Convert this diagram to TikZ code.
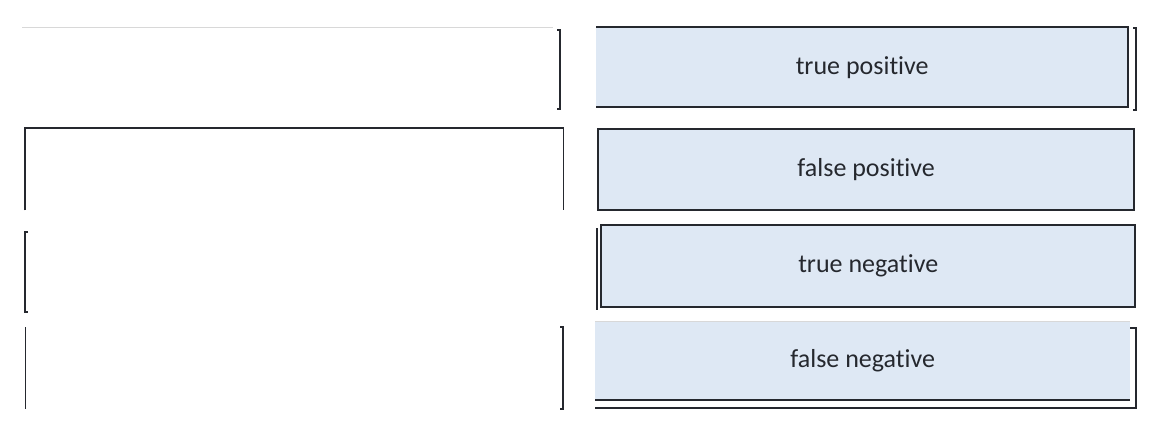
\documentclass[tikz,border=0pt]{standalone}
\usepackage{fontspec}
\setmainfont{Carlito}[Ligatures=NoCommon]
\definecolor{boxfill}{HTML}{DEE8F4}
\definecolor{edge}{HTML}{25282E}
\definecolor{faint}{HTML}{D8D8D8}
\begin{document}
\begin{tikzpicture}[x=1pt,y=-1pt,
  answer/.style={fill=boxfill,inner sep=0pt,anchor=north west,font=\fontsize{26}{30}\selectfont,text=edge},
  blank/.style={inner sep=0pt,anchor=north west},
  rim/.style={draw=edge,line width=2pt},
  thin rim/.style={draw=edge,line width=1.3pt},
  faint rim/.style={draw=faint,line width=1pt}]
\useasboundingbox (0,0) rectangle (1166,425);
% right column
\node[answer,minimum width=532pt,minimum height=80pt] (tp) at (596,27) {true positive};
\node[answer,minimum width=536pt,minimum height=81pt] (fp) at (598,129) {false positive};
\node[answer,minimum width=534pt,minimum height=82pt] (tn) at (601,225) {true negative};
\node[answer,minimum width=535pt,minimum height=79pt] (fn) at (595,321) {false negative};
% left column
\node[blank,minimum width=538pt,minimum height=81pt] (l1) at (22,28) {};
\node[blank,minimum width=538pt,minimum height=82pt] (l2) at (25,128) {};
\node[blank,minimum width=538pt,minimum height=80pt] (l3) at (25,232) {};
\node[blank,minimum width=538pt,minimum height=82pt] (l4) at (25,327) {};
% edges of the right boxes
\draw[rim] (tp.north west) -- (tp.north east) -- (tp.south east) -- (tp.south west);
\draw[rim] ([xshift=5pt,yshift=-1pt]tp.north east) -- ([xshift=8pt,yshift=-1pt]tp.north east) -- ([xshift=8pt,yshift=-3pt]tp.south east) -- ([xshift=5pt,yshift=-3pt]tp.south east);
\draw[rim] (fp.north west) rectangle (fp.south east);
\draw[rim] (tn.north west) rectangle (tn.south east);
\draw[thin rim] ([xshift=-4pt,yshift=-3pt]tn.north west) -- ([xshift=-4pt,yshift=-3pt]tn.south west);
\draw[rim] (fn.south west) -- (fn.south east);
\draw[rim] ([yshift=-8pt]fn.south west) -- ([yshift=-8pt,xshift=6pt]fn.south east) -- ([xshift=6pt,yshift=-7pt]fn.north east) -- ([yshift=-7pt]fn.north east);
\draw[faint rim] (fn.north west) -- (fn.north east);
% edges of the left boxes
\draw[faint rim] (l1.north west) -- ([xshift=-7pt]l1.north east);
\draw[rim] ([xshift=-3pt,yshift=-2pt]l1.north east) -- ([yshift=-2pt]l1.north east) -- (l1.south east) -- ([xshift=-3pt]l1.south east);
\draw[thin rim] (l2.south west) -- (l2.north west) -- (l2.north east) -- (l2.south east);
\draw[rim] ([xshift=3pt]l3.north west) -- (l3.north west) -- (l3.south west) -- ([xshift=3pt]l3.south west);
\draw[draw=edge,line width=0.7pt] (l4.north west) -- (l4.south west);
\draw[rim] ([xshift=-3pt]l4.north east) -- (l4.north east) -- (l4.south east) -- ([xshift=-3pt]l4.south east);
\end{tikzpicture}
\end{document}
